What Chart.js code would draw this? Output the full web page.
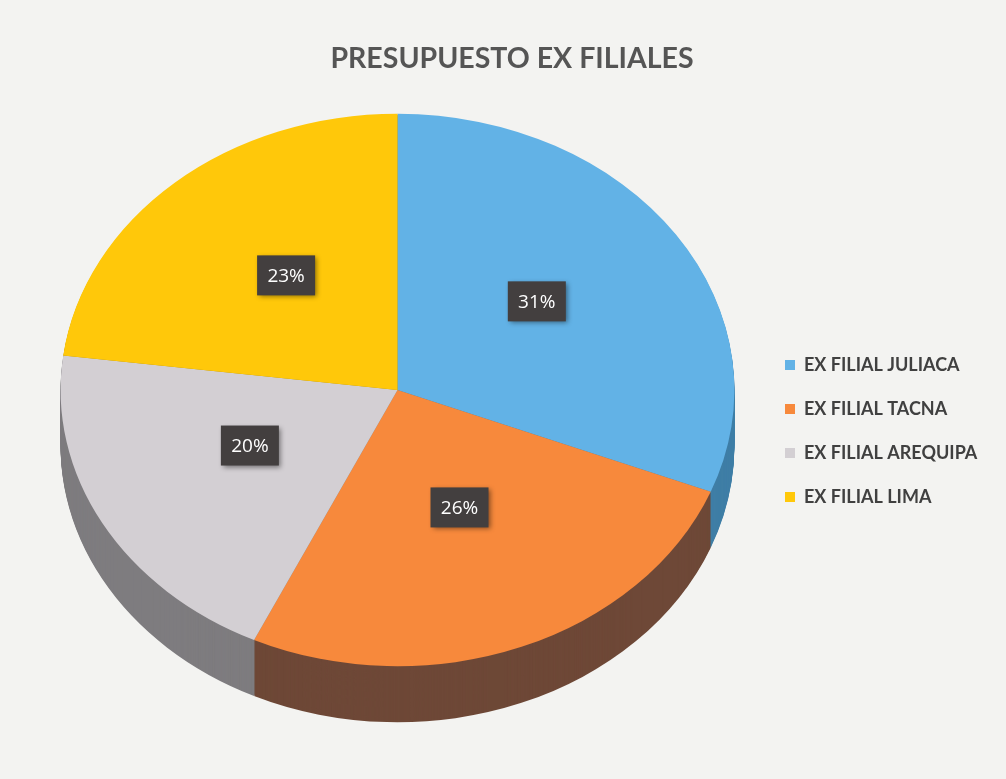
<!DOCTYPE html>
<html>
<head>
<meta charset="utf-8">
<script src="https://cdn.jsdelivr.net/npm/chart.js@4.4.1/dist/chart.umd.min.js"></script>
<style>
  html, body { margin: 0; padding: 0; background: #f3f3f1; }
  #marco { width: 1006px; height: 779px; }
</style>
</head>
<body>
<div id="marco"><canvas id="presupuesto" width="1006" height="779"></canvas></div>
<script>
const filiales = ['EX FILIAL JULIACA', 'EX FILIAL TACNA', 'EX FILIAL AREQUIPA', 'EX FILIAL LIMA'];
const porcentajes = [31, 26, 20, 23];
const coloresCara = ['#62B2E6', '#F7893C', '#D3CFD3', '#FFC80A'];
const coloresLado = ['#3F7EA6', '#6E4837', '#7E7C7F', '#B08A00'];

// vista "3D": aplastado vertical + grosor del pastel
const aplanado = 0.82;
const profundidad = 56;
const centroY = 390;
const desplazX = 9;
const anchoLeyenda = 247;

function vista(ctx, cy, dy) {
  ctx.translate(desplazX, centroY + dy);
  ctx.scale(1, aplanado);
  ctx.translate(0, -cy);
}

const pastel3d = {
  id: 'pastel3d',
  beforeInit(chart) {
    const leyenda = chart.legend;
    const fitOriginal = leyenda.fit;
    leyenda.fit = function () {
      fitOriginal.call(this);
      this.width = anchoLeyenda;
    };
  },
  afterLayout(chart) {
    chart.legend.top += 16;
  },
  beforeDatasetsDraw(chart) {
    const ctx = chart.ctx;
    const arcos = chart.getDatasetMeta(0).data;
    const cy = arcos[0].y;
    for (let d = profundidad; d > 0; d--) {
      ctx.save();
      vista(ctx, cy, d);
      arcos.forEach((arco, i) => {
        const opc = arco.options;
        arco.options = Object.assign({}, opc, { backgroundColor: coloresLado[i], borderWidth: 0 });
        arco.draw(ctx);
        arco.options = opc;
      });
      ctx.restore();
    }
    ctx.save();
    vista(ctx, cy, 0);
    arcos.forEach(arco => arco.draw(ctx));
    ctx.restore();
    return false;
  },
  afterDraw(chart) {
    const ctx = chart.ctx;
    const arcos = chart.getDatasetMeta(0).data;
    ctx.save();
    ctx.font = '19px "Open Sans"';
    ctx.textAlign = 'center';
    ctx.textBaseline = 'middle';
    arcos.forEach((arco, i) => {
      const p = arco.tooltipPosition();
      const x = p.x + desplazX;
      const y = centroY + (p.y - arco.y) * aplanado - 11;
      ctx.shadowColor = 'rgba(0,0,0,0.45)';
      ctx.shadowBlur = 5;
      ctx.shadowOffsetX = 2;
      ctx.shadowOffsetY = 2;
      ctx.fillStyle = '#433f3f';
      ctx.fillRect(x - 29, y - 20, 58, 40);
      ctx.shadowColor = 'transparent';
      ctx.fillStyle = '#ffffff';
      ctx.fillText(porcentajes[i] + '%', x, y + 1);
    });
    ctx.restore();
  }
};

const ctx = document.getElementById('presupuesto').getContext('2d');

const presupuesto = new Chart(ctx, {
  type: 'pie',
  data: {
    labels: filiales,
    datasets: [{
      data: porcentajes,
      backgroundColor: coloresCara,
      borderWidth: 0,
    }],
  },
  options: {
    responsive: false,
    animation: false,
    layout: { padding: { left: 18, right: 0, top: 0, bottom: 19 } },
    plugins: {
      title: {
        display: true,
        text: 'PRESUPUESTO EX FILIALES',
        color: '#555555',
        font: { family: 'Lato', size: 28.5, weight: 'bold' },
        padding: { top: 42, bottom: 10 },
      },
      legend: {
        position: 'right',
        fullSize: false,
        labels: {
          boxWidth: 10,
          boxHeight: 10,
          padding: 26,
          color: '#404040',
          font: { family: 'Lato', size: 18, weight: 'bold' },
        },
      },
      tooltip: { enabled: false },
    },
  },
  plugins: [pastel3d],
});
</script>
</body>
</html>
